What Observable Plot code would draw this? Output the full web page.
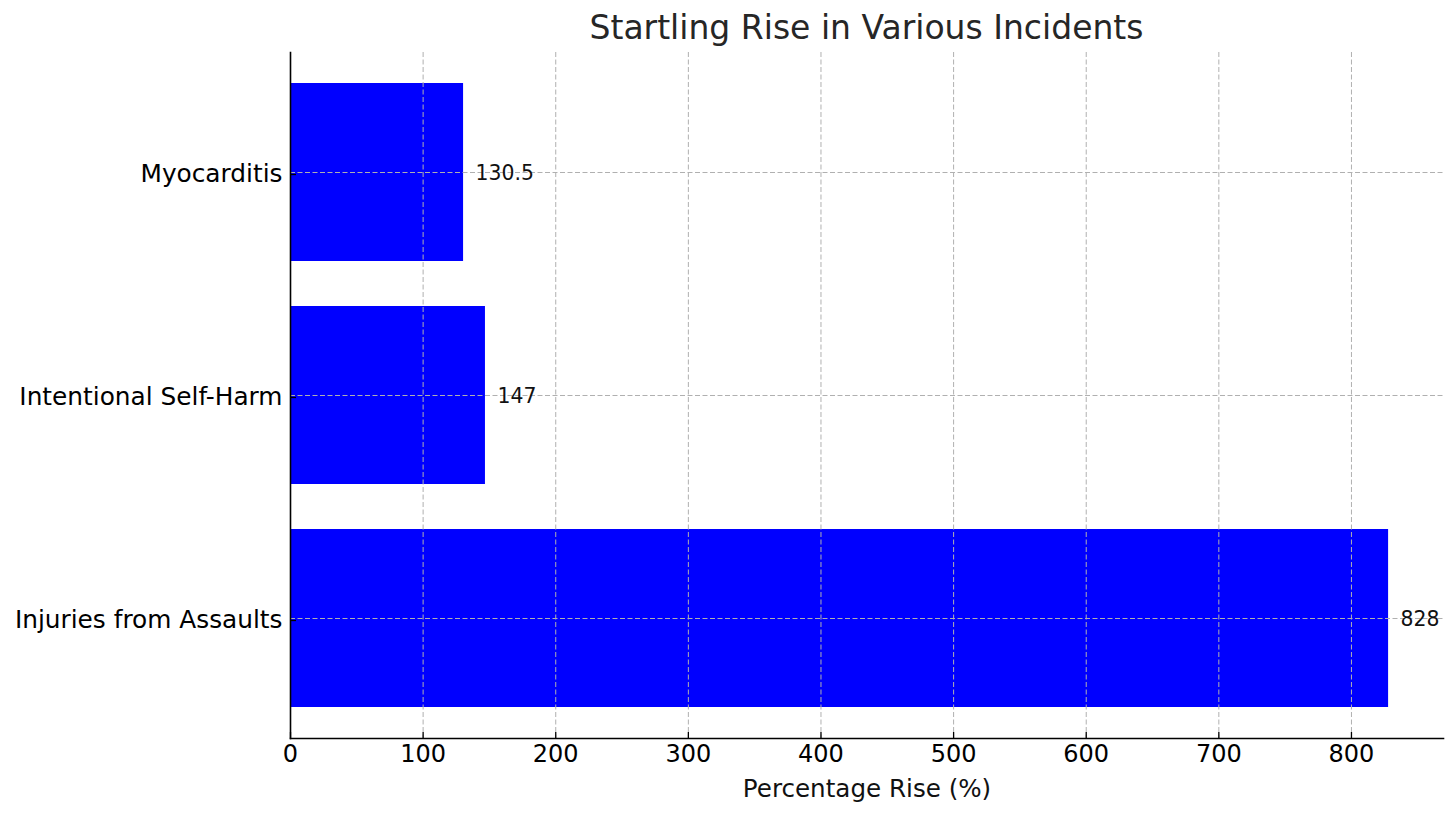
<!DOCTYPE html>
<html>
<head>
<meta charset="utf-8">
<script src="https://cdn.jsdelivr.net/npm/d3@7"></script>
<script src="https://cdn.jsdelivr.net/npm/@observablehq/plot@0.6"></script>
<style>
  html, body { margin: 0; padding: 0; background: #fff; }
  #wrap { position: relative; width: 1456px; height: 818px; font-family: "DejaVu Sans", sans-serif; }
  #title { position: absolute; left: 290px; width: 1153px; top: 11px; text-align: center; font-size: 33px; color: #262626; line-height: 33px; }
  svg { display: block; }
</style>
</head>
<body>
<div id="wrap">
  <div id="title">Startling Rise in Various Incidents</div>
</div>
<script>
const categories = ["Injuries from Assaults", "Intentional Self-Harm", "Myocarditis"];
const values = [828, 147, 130.5];
const valueLabels = ["828", "147", "130.5"];
const xTicks = [0, 100, 200, 300, 400, 500, 600, 700, 800];
const xLabel = "Percentage Rise (%)";

const data = categories.map((c, i) => ({category: c, value: values[i], label: valueLabels[i]}));

const chart = Plot.plot({
  width: 1456,
  height: 818,
  marginTop: 52,
  marginBottom: 80,
  marginLeft: 290,
  marginRight: 13,
  style: {fontFamily: "DejaVu Sans", background: "white", color: "black"},
  x: {domain: [0, 828 * 1.05], ticks: xTicks},
  y: {domain: categories.slice().reverse(), paddingInner: 0.2, paddingOuter: 0.138},
  marks: [
    Plot.barX(data, {x: "value", y: "category", fill: "#0000ff"}),
    Plot.gridX(xTicks, {stroke: "#b0b0b0", strokeOpacity: 1, strokeWidth: 1, strokeDasharray: "5,2.5"}),
    Plot.gridY(categories, {stroke: "#b0b0b0", strokeOpacity: 1, strokeWidth: 1, strokeDasharray: "5,2.5"}),
    Plot.text(data, {x: "value", y: "category", text: "label", textAnchor: "start", dx: 12, dy: 1, fontSize: 20.4, fill: "#111"}),
    Plot.axisX(xTicks, {tickSize: -6, tickPadding: 12, fontSize: 24, label: null, stroke: "black", strokeWidth: 1.3}),
    Plot.axisY({tickSize: -6, tickPadding: 14, fontSize: 24.8, dy: 2, label: null, stroke: "black", strokeWidth: 1.3}),
    Plot.frame({anchor: "bottom", stroke: "black", strokeWidth: 1.6}),
    Plot.frame({anchor: "left", stroke: "black", strokeWidth: 1.6}),
    Plot.text([xLabel], {frameAnchor: "bottom", dy: 51, text: d => d, fontSize: 24.6, lineAnchor: "middle", fill: "#111"})
  ]
});
document.getElementById("wrap").appendChild(chart);
</script>
</body>
</html>
